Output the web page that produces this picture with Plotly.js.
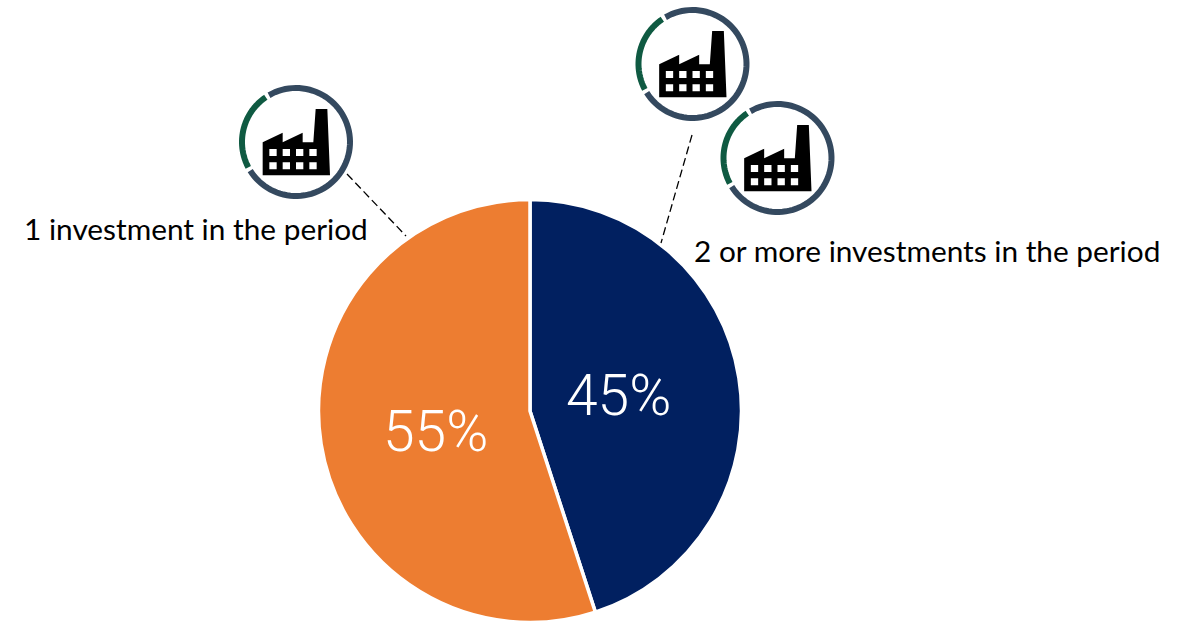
<!DOCTYPE html>
<html><head><meta charset="utf-8">
<script src="https://cdn.plot.ly/plotly-3.0.1.min.js"></script>
<style>html,body{margin:0;padding:0;background:#fff;overflow:hidden;height:621px}#c{width:1179px;height:621px;overflow:hidden}</style>
</head><body><div id="c"></div>
<script>
const categories = ['2 or more investments in the period', '1 investment in the period'];
const shares = [45, 55];
const sliceColors = ['#012060', '#ED7D31'];

const W = 1179, H = 625;
const px = x => (x / W).toFixed(5);
const py = y => (1 - y / H).toFixed(5);
const pt = (x, y) => px(x) + ',' + py(y);

function arc(cx, cy, r, a0, a1) {
  let d = '';
  for (let i = 0; i <= 72; i++) {
    const a = (a0 + (a1 - a0) * i / 72) * Math.PI / 180;
    d += (i ? 'L' : 'M') + pt(cx + r * Math.cos(a), cy - r * Math.sin(a));
  }
  return d;
}
function poly(cx, cy, pts) {
  return pts.map((p, i) => (i ? 'L' : 'M') + pt(cx + (p[0] - 198) / 3, cy + (p[1] - 186) / 3)).join('') + 'Z';
}
const factoryOutline = [[98,187],[158,158],[158,187],[218,158],[218,187],[250,187],[257,87],[292,87],[300,286],[98,286]];
const winX = [118,158,198,238], winY = [207,247];

function icon(cx, cy) {
  const out = [];
  const base = {type:'path', xref:'paper', yref:'paper'};
  out.push({...base, path: arc(cx, cy, 54, 124, 208), line:{color:'#0F5A42', width:6}});
  out.push({...base, path: arc(cx, cy, 54, 212, 480), line:{color:'#34495F', width:6}});
  let d = poly(cx, cy, factoryOutline);
  winY.forEach(y => winX.forEach(x => {
    d += poly(cx, cy, [[x,y],[x+22,y],[x+22,y+21],[x,y+21]]);
  }));
  out.push({...base, path:d, fillcolor:'#000', fillrule:'evenodd', line:{width:0}});
  return out;
}
function dash(x0, y0, x1, y1) {
  return {type:'line', xref:'paper', yref:'paper', x0:px(x0), y0:py(y0), x1:px(x1), y1:py(y1),
          line:{color:'#000', width:1.3, dash:'8px,4px'}};
}
const shapes = [
  ...icon(296, 142), ...icon(692.5, 64), ...icon(777.5, 158),
  dash(347, 174, 406, 236), dash(692, 135, 661, 243)
];
function label(text, x, y) {
  return {text, xref:'paper', yref:'paper', x:+px(x), y:+py(y), xanchor:'left', yanchor:'middle',
          showarrow:false, font:{family:'Lato, Carlito, sans-serif', size:29.8, color:'#000'}};
}
function pct(v, x, y) {
  return {text:v + '%', xref:'paper', yref:'paper', x:+px(x), y:+py(y), xanchor:'center', yanchor:'middle',
          showarrow:false, font:{family:'Roboto, Inter, sans-serif', size:57, color:'#fff', weight:300}};
}
const data = [{
  type:'pie', labels:categories, values:shares, sort:false, direction:'clockwise', rotation:0,
  marker:{colors:sliceColors, line:{color:'#fff', width:3.5}},
  textinfo:'none',
  domain:{x:[318.5/W, 741.5/W], y:[2.5/H, 425.5/H]}, hole:0
}];
const layout = {
  width:W, height:H, margin:{l:0,r:0,t:0,b:0}, showlegend:false,
  paper_bgcolor:'#fff', shapes,
  annotations:[label(categories[1], 22, 228), label(categories[0], 692, 251),
               pct(shares[1], 436, 431), pct(shares[0], 619, 395)]
};
Plotly.newPlot('c', data, layout, {staticPlot:true, displayModeBar:false});
</script></body></html>
